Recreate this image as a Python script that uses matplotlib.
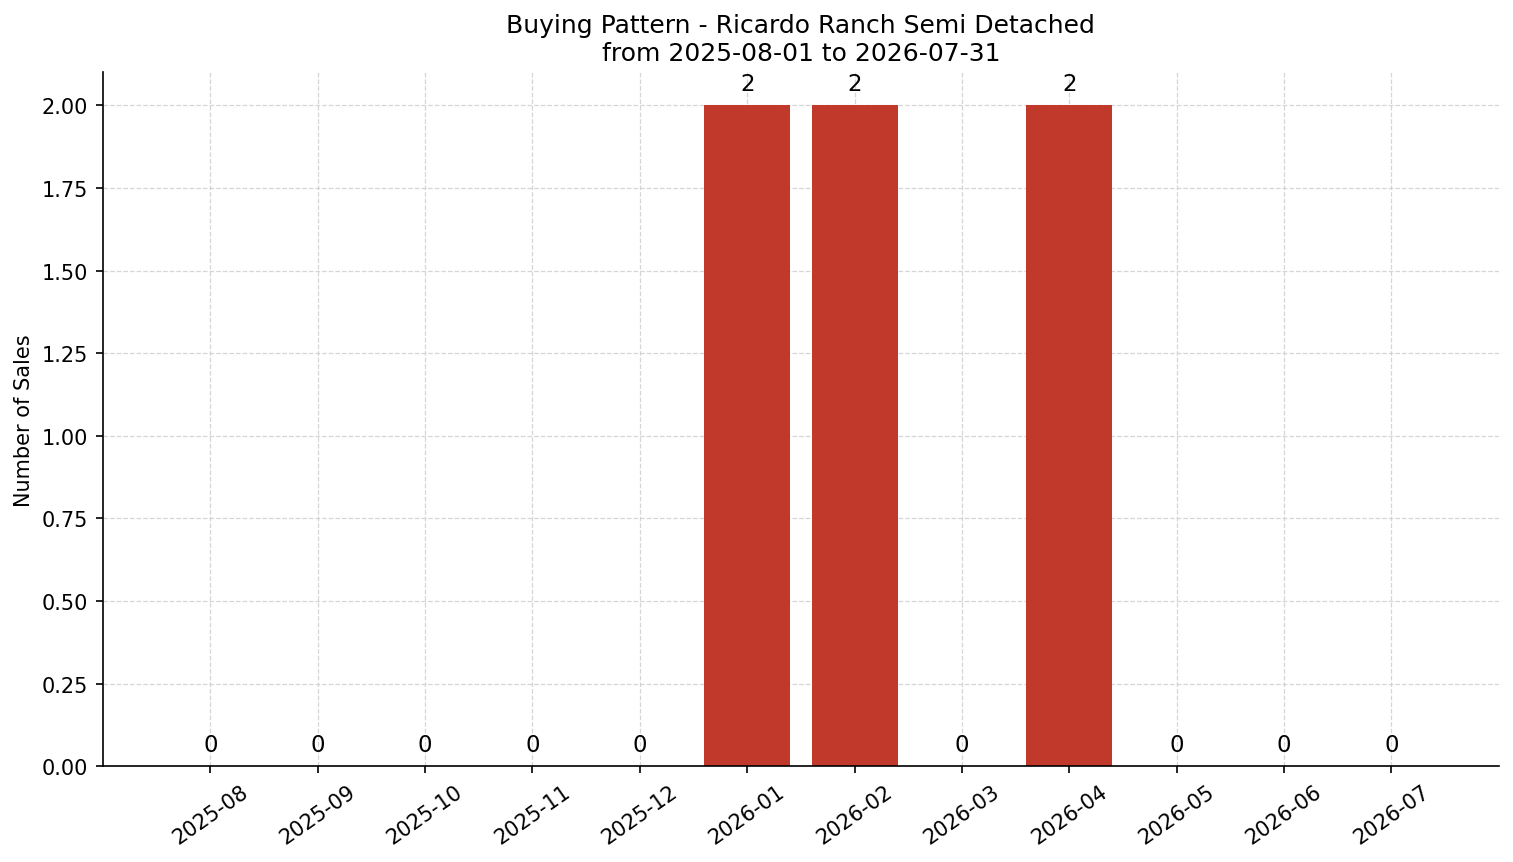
import matplotlib
matplotlib.use('Agg')
import matplotlib.pyplot as plt

months = ['2025-08', '2025-09', '2025-10', '2025-11', '2025-12', '2026-01',
          '2026-02', '2026-03', '2026-04', '2026-05', '2026-06', '2026-07']
sales = [0, 0, 0, 0, 0, 2, 2, 0, 2, 0, 0, 0]

fig, ax = plt.subplots(figsize=(10.093, 5.753), dpi=150)
x = list(range(len(months)))
bars = ax.bar(x, sales, width=0.8, color='#c0392b', zorder=2)
for b, v in zip(bars, sales):
    ax.text(b.get_x() + b.get_width() / 2, v + 0.03, str(v), ha='center', va='bottom', fontsize=11)

ax.set_xticks(x)
ax.set_xticklabels(months, rotation=35)
ax.set_xlim(-1, 12)
ax.set_ylim(0, 2.1)
ax.set_ylabel('Number of Sales')
ax.set_title('Buying Pattern - Ricardo Ranch Semi Detached\nfrom 2025-08-01 to 2026-07-31', fontsize=12)
ax.grid(True, linestyle='--', linewidth=0.6, color='#cccccc', alpha=0.8, zorder=3)
ax.spines['top'].set_visible(False)
ax.spines['right'].set_visible(False)

plt.subplots_adjust(left=0.068, right=0.99, top=0.915, bottom=0.111)
fig.savefig('out.png')
